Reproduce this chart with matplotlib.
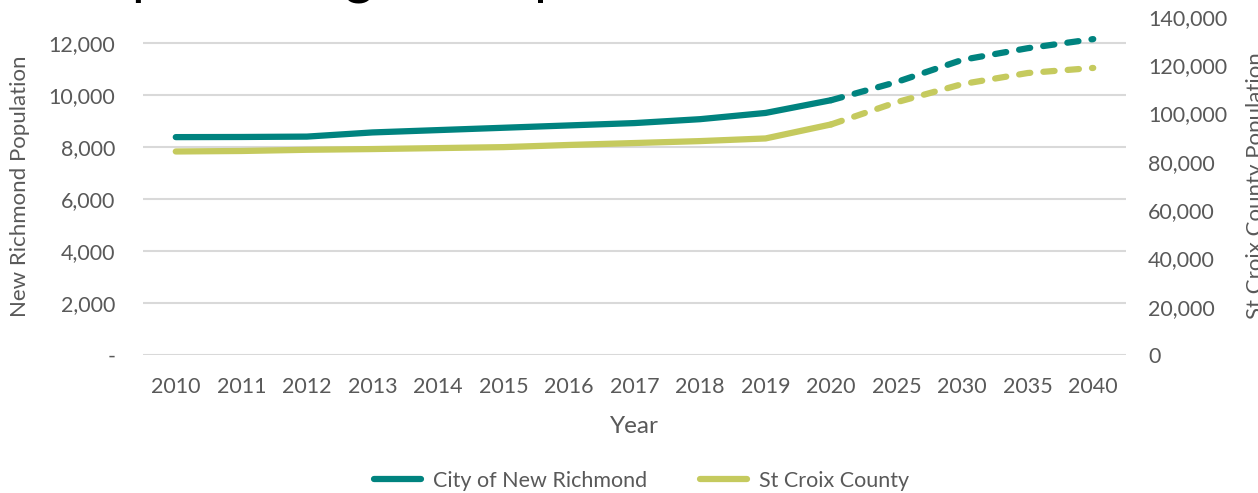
import matplotlib.pyplot as plt
from matplotlib.ticker import FuncFormatter

plt.rcParams['font.family'] = ['Lato', 'DejaVu Sans']

# data
years = ['2010', '2011', '2012', '2013', '2014', '2015', '2016', '2017', '2018',
         '2019', '2020', '2025', '2030', '2035', '2040']
new_richmond = [8380, 8385, 8400, 8560, 8650, 8740, 8830, 8920, 9070,
                9310, 9800, 10500, 11350, 11800, 12150]
st_croix = [84300, 84500, 85000, 85300, 85700, 86100, 87000, 87800, 88600,
            89700, 95500, 104700, 112200, 116800, 118900]
n_actual = 11  # 2010-2020 measured, rest projected

teal = '#00837F'
olive = '#C5CA5E'
grey = '#595959'

fig = plt.figure(figsize=(12.58, 4.93), dpi=100)
ax = fig.add_axes([143 / 1258, 1 - 355 / 493, 983 / 1258, 338 / 493])
ax2 = ax.twinx()

x = list(range(len(years)))
lw = 4.5
dash = (0, (1.8, 2.1))

ax.plot(x[:n_actual], new_richmond[:n_actual], color=teal, lw=lw,
        solid_capstyle='round', label='City of New Richmond', zorder=3)
ax.plot(x[n_actual - 1:], new_richmond[n_actual - 1:], color=teal, lw=lw,
        linestyle=dash, dash_capstyle='round', zorder=3)
ax2.plot(x[:n_actual], st_croix[:n_actual], color=olive, lw=lw,
         solid_capstyle='round', label='St Croix County', zorder=3)
ax2.plot(x[n_actual - 1:], st_croix[n_actual - 1:], color=olive, lw=lw,
         linestyle=dash, dash_capstyle='round', zorder=3)

ax.set_xlim(-0.5, len(years) - 0.5)
ax.set_ylim(0, 13000)
ax2.set_ylim(0, 140000)
ax.set_xticks(x)
ax.set_xticklabels(years)
ax.set_yticks(range(0, 12001, 2000))
ax2.set_yticks(range(0, 140001, 20000))

ax.yaxis.set_major_formatter(FuncFormatter(lambda v, p: '-' if v == 0 else f'{v:,.0f}'))
ax2.yaxis.set_major_formatter(FuncFormatter(lambda v, p: f'{v:,.0f}'))

ax.grid(axis='y', color='#D9D9D9', lw=1.5)
ax.set_axisbelow(True)
for a in (ax, ax2):
    for s in a.spines.values():
        s.set_visible(False)
ax.tick_params(axis='both', length=0, labelsize=15.5, colors=grey)
ax.tick_params(axis='y', pad=20)
ax.tick_params(axis='x', pad=16)
ax2.tick_params(axis='y', length=0, labelsize=15.5, colors=grey, pad=16)

ax.set_ylabel('New Richmond Population', fontsize=16, color=grey)
ax.yaxis.set_label_coords(-0.115, 0.5)
ax2.set_ylabel('St Croix County Population', fontsize=16, color=grey, rotation=90)
ax2.yaxis.set_label_coords(1.122, 0.5)
ax.set_xlabel('Year', fontsize=17.5, color=grey)
ax.xaxis.set_label_coords(0.5, -0.18)

# title sits mostly above the visible area
fig.text(0.053, 1.016, 'Population growth patterns', fontsize=40, color='black',
         va='baseline', ha='left')

h1, l1 = ax.get_legend_handles_labels()
h2, l2 = ax2.get_legend_handles_labels()
fig.legend(h1 + h2, l1 + l2, loc='center', bbox_to_anchor=(0.51, 0.025), ncol=2,
           frameon=False, fontsize=15.5, labelcolor=grey, handlelength=2.2,
           handletextpad=0.55, columnspacing=2.45)

plt.savefig('out.png', dpi=100)
